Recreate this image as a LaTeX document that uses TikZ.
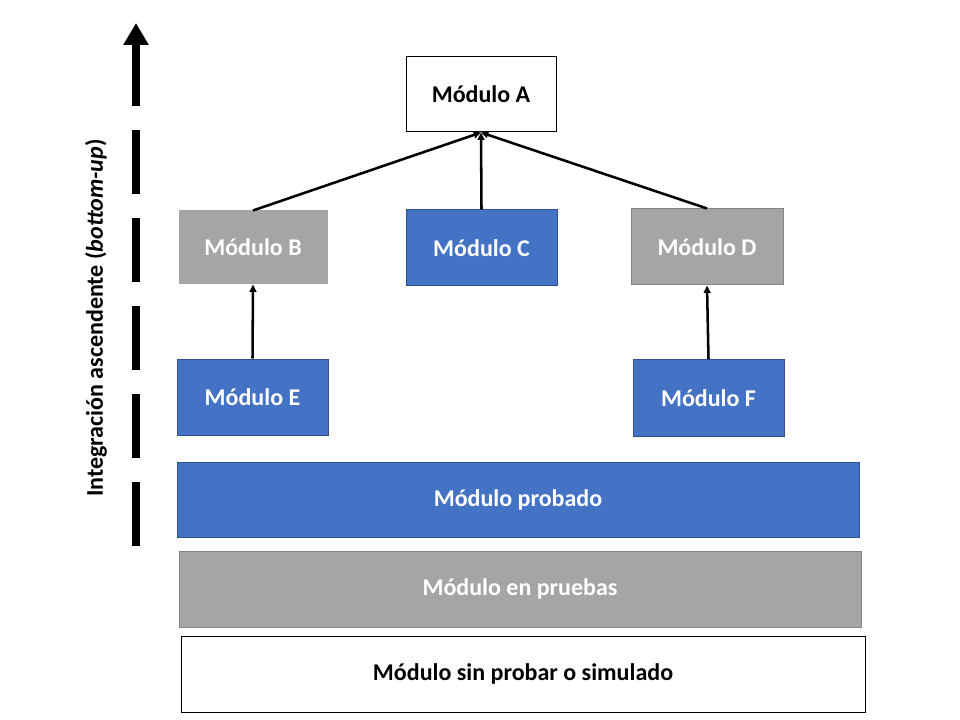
\documentclass[tikz,border=0pt]{standalone}
\usepackage{fontspec}
\setmainfont{Carlito}
\usetikzlibrary{arrows.meta}
\definecolor{modblue}{HTML}{4472C4}
\definecolor{modblueline}{HTML}{2F528F}
\definecolor{modgray}{HTML}{A5A5A5}
\definecolor{modgrayline}{HTML}{848484}

\tikzset{
	modbox/.style={rectangle,inner sep=0pt,font=\fontsize{18}{21}\selectfont\bfseries,line width=0.75pt},
	bluebox/.style={modbox,fill=modblue,draw=modblueline,text=white},
	graybox/.style={modbox,fill=modgray,draw=modgrayline,text=white},
	whitebox/.style={modbox,fill=white,draw=black,text=black},
	link/.style={line width=1.9pt,-{Triangle[length=5.5pt,width=5pt]}}
}

\begin{document}
\begin{tikzpicture}[x=0.75pt,y=-0.75pt]
	\useasboundingbox (0,0) rectangle (960,720);

	\node[whitebox,minimum width=112.5pt,minimum height=56.25pt] (a) at (481, 94.5)  {Módulo A};
	\node[graybox,draw=modgray,minimum width=111pt,minimum height=54.75pt] (b) at (253, 247.5)  {Módulo B};
	\node[bluebox,minimum width=113.25pt,minimum height=57pt] (c) at (481.5, 248)  {Módulo C};
	\node[graybox,minimum width=114pt,minimum height=57pt] (d) at (707, 247)  {Módulo D};
	\node[bluebox,minimum width=113.25pt,minimum height=57pt] (e) at (252.5, 397)  {Módulo E};
	\node[bluebox,minimum width=113.25pt,minimum height=57.75pt] (f) at (708.5, 398)  {Módulo F};
	\node[bluebox,minimum width=511.5pt,minimum height=56.25pt] (probado) at (518, 499.5)  {Módulo probado};
	\node[graybox,minimum width=511.5pt,minimum height=57pt] (pruebas) at (520, 589)  {Módulo en pruebas};
	\node[whitebox,minimum width=513pt,minimum height=57pt] (sinprobar) at (523, 674)  {Módulo sin probar o simulado};

	\draw[link] (b.north) -- (a.south);
	\draw[link] (c.north) -- (a.south);
	\draw[link] (d.north) -- (a.south);
	\draw[link] (e.north) -- (b.south);
	\draw[link] (f.north) -- (d.south);

	% eje de integracion
	\coordinate (ejebase) at (136, 546);
	\coordinate (ejepunta) at (136, 23);
	\draw[line width=6pt,dash pattern=on 48pt off 18pt,-{Triangle[length=16.5pt,width=18pt]}] (ejebase) -- (ejepunta);
	\node[rotate=90,font=\fontsize{18}{21}\selectfont\bfseries] (eje) at (96, 318) {Integración ascendente (\textit{bottom-up})};

\end{tikzpicture}
\end{document}
